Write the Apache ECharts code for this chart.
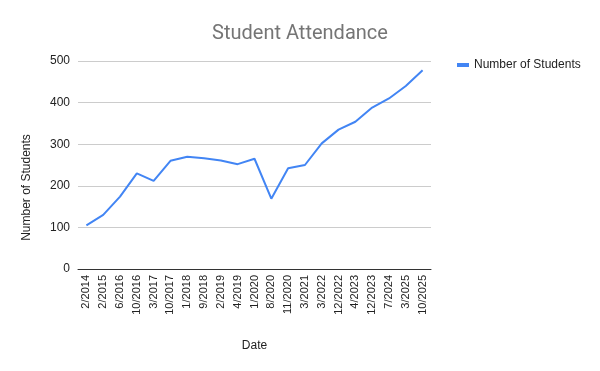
<!DOCTYPE html>
<html><head><meta charset="utf-8">
<script src="https://cdn.jsdelivr.net/npm/echarts@6/dist/echarts.min.js"></script>
<style>html,body{margin:0;padding:0;background:#fff}#c{width:600px;height:371px}</style>
</head><body><div id="c"></div>
<script>
const categories = ["2/2014","2/2015","6/2016","10/2016","3/2017","10/2017","1/2018","9/2018","2/2019","4/2019","1/2020","8/2020","11/2020","3/2021","3/2022","12/2022","4/2023","12/2023","7/2024","3/2025","10/2025"];
const students = [105,130,174,230,212,260,270,266,261,252,265,169,242,250,302,335,354,388,410,440,478];
const yTicks = {min:0, max:500, interval:100};

const F = 'Arial, "Liberation Sans", sans-serif';
const chart = echarts.init(document.getElementById('c'));
chart.setOption({
  animation:false,
  title:{text:'Student Attendance', left:'center', top:19, textStyle:{fontFamily:'Roboto, Arial', fontSize:20, fontWeight:'normal', color:'#757575'}},
  legend:{data:['Number of Students'], left:452, top:54, itemWidth:12, itemHeight:4, icon:'rect', itemGap:8, textStyle:{fontFamily:F, fontSize:12, color:'#222'}},
  grid:{left:78, right:169, top:61, bottom:102},
  xAxis:{type:'category', data:categories, boundaryGap:true, name:'Date', nameLocation:'middle', nameGap:71,
    nameTextStyle:{fontFamily:F, fontSize:12, color:'#222'},
    axisLine:{lineStyle:{color:'#333', width:1}}, axisTick:{show:false},
    axisLabel:{rotate:90, interval:0, fontFamily:F, fontSize:11, color:'#222', margin:6}},
  yAxis:{type:'value', min:yTicks.min, max:yTicks.max, interval:yTicks.interval, name:'Number of Students', nameLocation:'middle', nameGap:45,
    nameTextStyle:{fontFamily:F, fontSize:12, color:'#222', padding:[0,45,0,0]},
    axisLine:{show:false}, axisTick:{show:false},
    axisLabel:{fontFamily:F, fontSize:12, color:'#222', margin:8},
    splitLine:{lineStyle:{color:'#cccccc', width:1}}},
  series:[{name:'Number of Students', type:'line', data:students, symbol:'none', lineStyle:{color:'#4285f4', width:2}, itemStyle:{color:'#4285f4'}}]
});
</script></body></html>
